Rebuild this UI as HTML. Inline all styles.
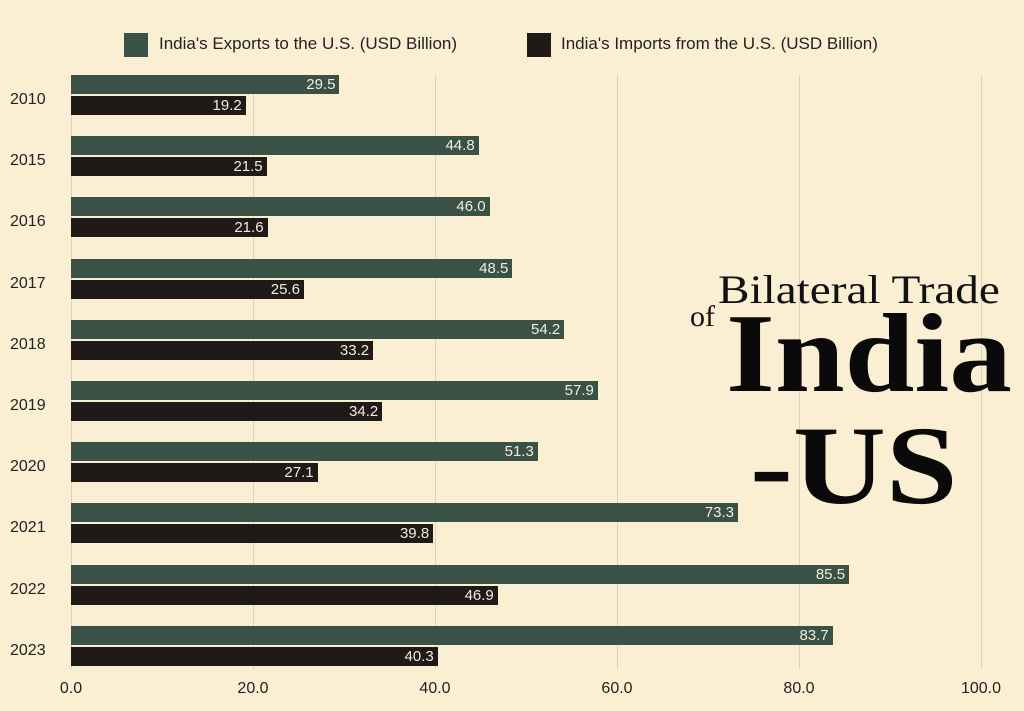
<!DOCTYPE html><html><head><style>
body{margin:0;width:1024px;height:711px;background:#fbefd3;position:relative;overflow:hidden;font-family:"Liberation Sans",sans-serif}
.a{position:absolute}
.g{position:absolute;top:75px;height:594px;width:1px;background:#ddd3bc}
.e,.i{position:absolute;left:71px;height:19px;color:#f3ecdc;font-size:15px;text-align:right;box-sizing:border-box;padding-right:4px;line-height:19px}
.e{background:#3a5246}.i{background:#1f1a17}
.y{position:absolute;left:10px;font-size:16px;color:#222}
.x{position:absolute;top:680px;font-size:16px;color:#222;width:60px;text-align:center}
.t{transform-origin:0 0;white-space:nowrap}
</style></head><body>
<div class="a" style="left:124px;top:33px;width:24px;height:24px;background:#3a5246"></div>
<div class="a" style="left:159px;top:34px;font-size:17px;color:#222">India's Exports to the U.S. (USD Billion)</div>
<div class="a" style="left:527px;top:33px;width:24px;height:24px;background:#1f1a17"></div>
<div class="a" style="left:561px;top:34px;font-size:17px;color:#222">India's Imports from the U.S. (USD Billion)</div>
<div id="c"></div>
<div class="a t" style="left:718px;top:266px;font-family:'Liberation Serif',serif;font-size:40px;color:#111;transform:scaleX(1.18)">Bilateral Trade</div>
<div class="a" style="left:690px;top:300px;font-family:'Liberation Serif',serif;font-size:30px;color:#111">of</div>
<div class="a t" style="left:726px;top:298px;font-family:'Liberation Serif',serif;font-weight:bold;font-size:112px;line-height:112px;color:#0a0a0a;transform:scaleX(1.12)">India</div>
<div class="a t" style="left:750px;top:410px;font-family:'Liberation Serif',serif;font-weight:bold;font-size:112px;line-height:112px;color:#0a0a0a;transform:scaleX(1.15)">-US</div>
<script>
var yrs=[2010,2015,2016,2017,2018,2019,2020,2021,2022,2023],
ex=[29.5,44.8,46.0,48.5,54.2,57.9,51.3,73.3,85.5,83.7],
im=[19.2,21.5,21.6,25.6,33.2,34.2,27.1,39.8,46.9,40.3],h='';
for(var k=0;k<=5;k++){var x=71+k*182;h+='<div class="g" style="left:'+x+'px"></div><div class="x" style="left:'+(x-30)+'px">'+(k*20).toFixed(1)+'</div>';}
for(var j=0;j<10;j++){var t=75+j*61.2;
h+='<div class="e" style="top:'+t+'px;width:'+(ex[j]*9.1)+'px">'+ex[j].toFixed(1)+'</div>';
h+='<div class="i" style="top:'+(t+21)+'px;width:'+(im[j]*9.1)+'px">'+im[j].toFixed(1)+'</div>';
h+='<div class="y" style="top:'+(t+16)+'px">'+yrs[j]+'</div>';}
document.getElementById('c').innerHTML=h;
</script></body></html>
